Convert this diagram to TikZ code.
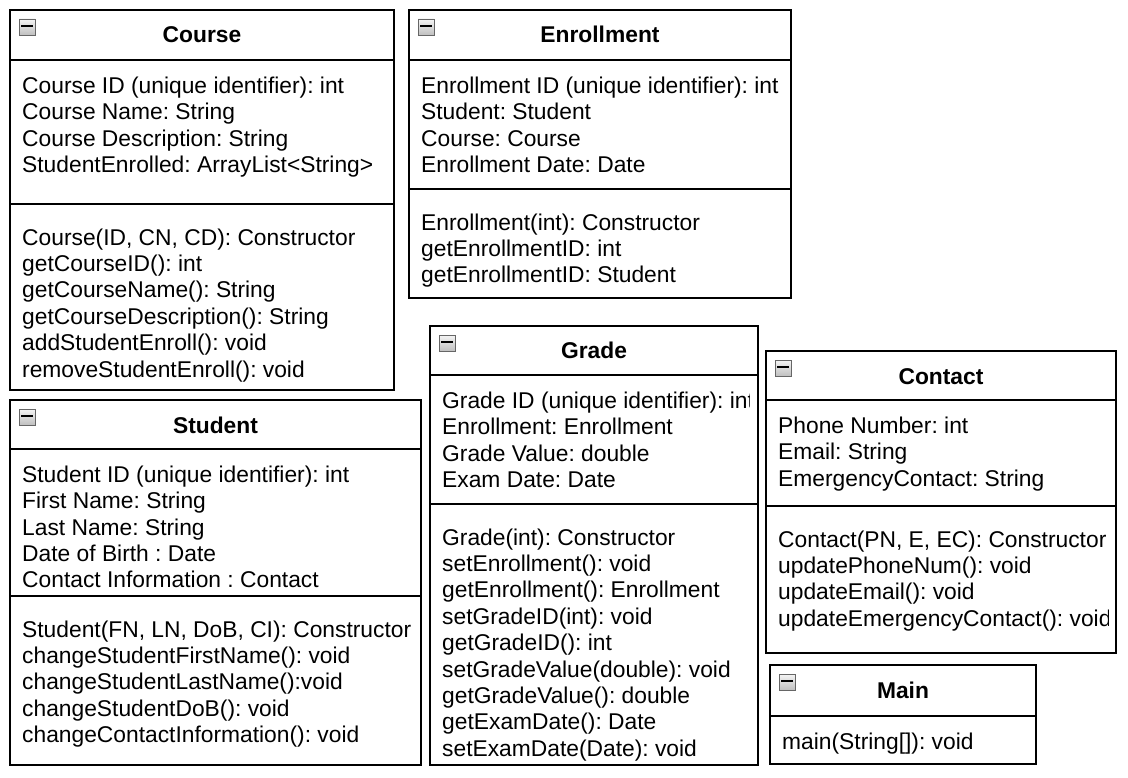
\documentclass[tikz,border=0pt]{standalone}
\usepackage{fontspec}
\setmainfont{Liberation Sans}
\frenchspacing
\newcommand{\umlfont}{\fontsize{22.8}{26.4}\selectfont}
\tikzset{
  classbox/.style={draw=black, line width=1.3pt},
  classname/.style={anchor=base, inner sep=0pt, font=\umlfont\bfseries},
  members/.style={anchor=north west, align=left, inner sep=0pt, font=\umlfont},
  foldicon/.style={draw=gray!80!black, top color=gray!8, bottom color=gray!50, line width=0.8pt},
}

\begin{document}
\begin{tikzpicture}[x=1pt, y=-1pt]
    \useasboundingbox (0,0) rectangle (1128,778);
    % Course
    \draw[classbox] (10,10) rectangle (394,390);
    \draw[classbox] (10,60) -- (394,60);
    \draw[classbox] (10,204) -- (394,204);
    \node[classname] (course) at (202,43) {Course};
    \node[members] (course_attr) at (22,74.6) {\strut Course ID (unique identifier): int\\
        Course Name: String\\ Course Description: String\\ StudentEnrolled: ArrayList<String>};
    \node[members] (course_op) at (22,226.5) {\strut Course(ID, CN, CD): Constructor\\
        getCourseID(): int\\ getCourseName(): String\\ getCourseDescription(): String\\
        addStudentEnroll(): void\\ removeStudentEnroll(): void};
    % Enrollment
    \draw[classbox] (409,10) rectangle (791,298);
    \draw[classbox] (409,60) -- (791,60);
    \draw[classbox] (409,189) -- (791,189);
    \node[classname] (enrollment) at (600,43) {Enrollment};
    \node[members] (enrollment_attr) at (421,74.6) {\strut Enrollment ID (unique identifier): int\\
        Student: Student\\ Course: Course\\ Enrollment Date: Date};
    \node[members] (enrollment_op) at (421,211.5) {\strut Enrollment(int): Constructor\\
        getEnrollmentID: int\\ getEnrollmentID: Student};
    % Student
    \draw[classbox] (10,400) rectangle (421,765);
    \draw[classbox] (10,449) -- (421,449);
    \draw[classbox] (10,596) -- (421,596);
    \node[classname] (student) at (215.5,433) {Student};
    \node[members] (student_attr) at (22,463.6) {\strut Student ID (unique identifier): int\\
        First Name: String\\ Last Name: String\\ Date of Birth : Date\\ Contact Information : Contact};
    \node[members] (student_op) at (22,618.5) {\strut Student(FN, LN, DoB, CI): Constructor\\
        changeStudentFirstName(): void\\ changeStudentLastName():void\\
        changeStudentDoB(): void\\ changeContactInformation(): void};
    % Grade
    \draw[classbox] (430,326) rectangle (758,765);
    \draw[classbox] (430,375) -- (758,375);
    \draw[classbox] (430,504) -- (758,504);
    \node[classname] (grade) at (594,359) {Grade};
    \begin{scope}
        \clip (430,326) rectangle (749,765);
        \node[members] (grade_attr) at (442,389.6) {\strut Grade ID (unique identifier): int\\
            Enrollment: Enrollment\\ Grade Value: double\\ Exam Date: Date};
        \node[members] (grade_op) at (442,526.5) {\strut Grade(int): Constructor\\
            setEnrollment(): void\\ getEnrollment(): Enrollment\\ setGradeID(int): void\\
            getGradeID(): int\\ setGradeValue(double): void\\ getGradeValue(): double\\
            getExamDate(): Date\\ setExamDate(Date): void};
    \end{scope}
    % Contact
    \draw[classbox] (766,351) rectangle (1116,653);
    \draw[classbox] (766,400) -- (1116,400);
    \draw[classbox] (766,506) -- (1116,506);
    \node[classname] (contact) at (941,384) {Contact};
    \begin{scope}
        \clip (766,351) rectangle (1108,653);
        \node[members] (contact_attr) at (778,414.6) {\strut Phone Number: int\\
            Email: String\\ EmergencyContact: String};
        \node[members] (contact_op) at (778,528.5) {\strut Contact(PN, E, EC): Constructor\\
            updatePhoneNum(): void\\ updateEmail(): void\\ updateEmergencyContact(): void};
    \end{scope}
    % Main
    \draw[classbox] (770,665) rectangle (1036,764);
    \draw[classbox] (770,716) -- (1036,716);
    \node[classname] (main) at (903,698) {Main};
    \node[members] (main_op) at (782,730.6) {\strut main(String[]): void};
    % collapse icons
    \foreach \x/\y in {10/10, 409/10, 10/400, 430/326, 766/351, 770/665} {
        \shade[foldicon] (\x+9,\y+9) rectangle +(16,16);
        \draw[line width=1.8pt] (\x+11,\y+16) -- +(12,0);
    }
\end{tikzpicture}
\end{document}
